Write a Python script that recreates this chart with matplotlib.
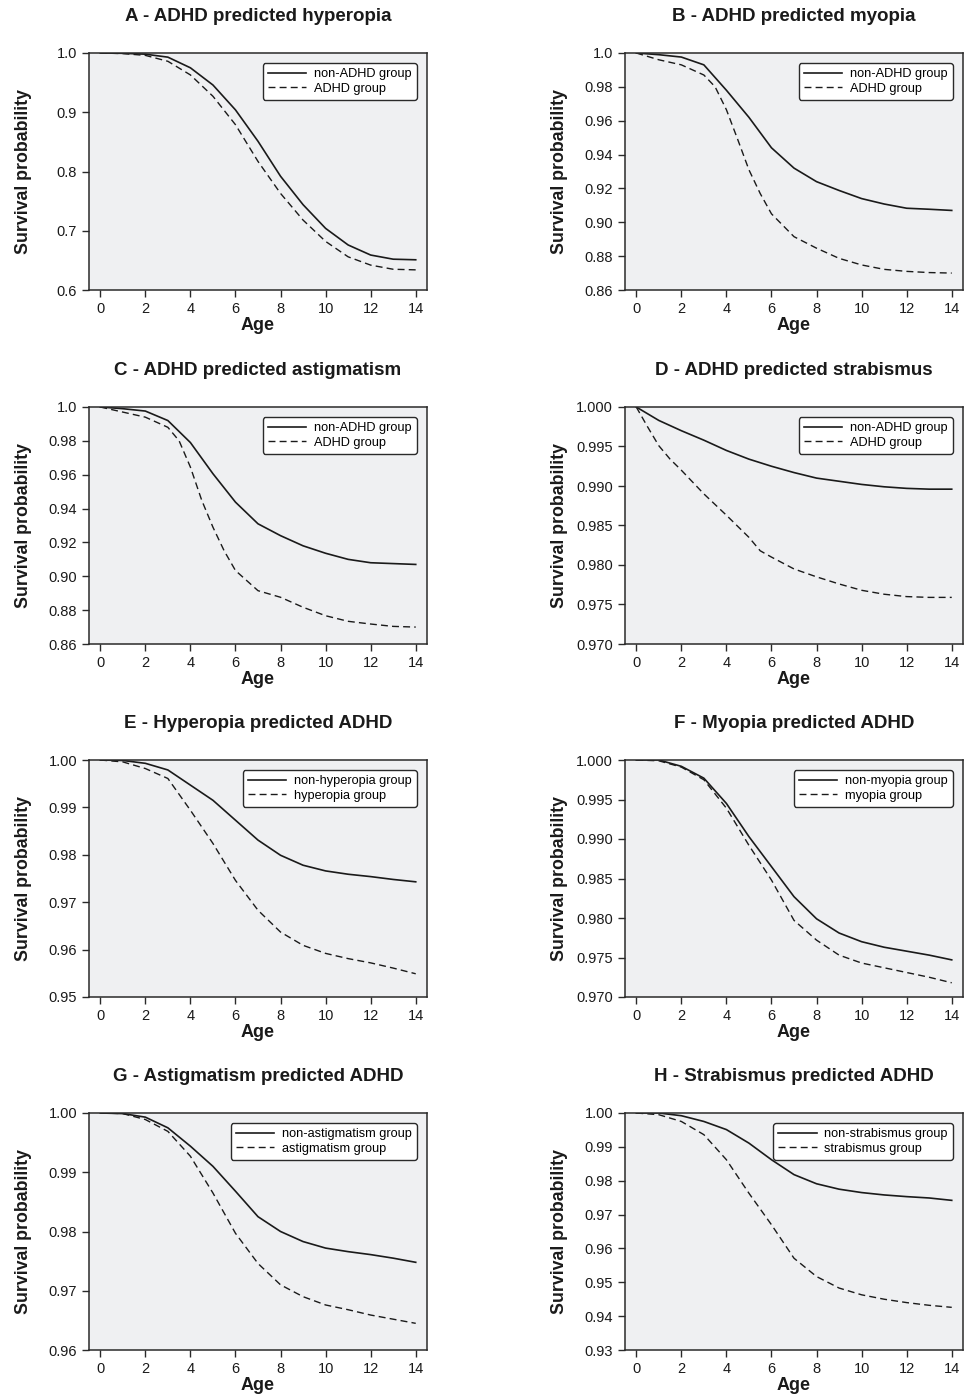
import numpy as np
import matplotlib
matplotlib.use("Agg")
import matplotlib.pyplot as plt

plt.rcParams['font.family'] = ['Liberation Sans', 'DejaVu Sans']

# ages read at whole years
ages = [0, 1, 2, 3, 4, 5, 6, 7, 8, 9, 10, 11, 12, 13, 14]
# finer ages for the steep dashed curves
ages_fine = [0, 1, 2, 3, 3.5, 4, 4.5, 5, 5.5, 6, 7, 8, 9, 10, 11, 12, 13, 14]
ages_d = [0, 0.5, 1, 1.5, 2, 3, 4, 5, 5.5, 6, 7, 8, 9, 10, 11, 12, 13, 14]

titles = ["A - ADHD predicted hyperopia", "B - ADHD predicted myopia",
          "C - ADHD predicted astigmatism", "D - ADHD predicted strabismus",
          "E - Hyperopia predicted ADHD", "F - Myopia predicted ADHD",
          "G - Astigmatism predicted ADHD", "H - Strabismus predicted ADHD"]

labels_solid = ["non-ADHD group", "non-ADHD group", "non-ADHD group", "non-ADHD group",
                "non-hyperopia group", "non-myopia group", "non-astigmatism group",
                "non-strabismus group"]
labels_dash = ["ADHD group", "ADHD group", "ADHD group", "ADHD group",
               "hyperopia group", "myopia group", "astigmatism group", "strabismus group"]

# solid curves (whole years)
a_solid = [1.0, 0.9995, 0.998, 0.993, 0.975, 0.946, 0.904, 0.851, 0.792, 0.744, 0.704, 0.676, 0.659, 0.652, 0.651]
b_solid = [1.0, 0.999, 0.9976, 0.993, 0.978, 0.962, 0.944, 0.932, 0.924, 0.9188, 0.914, 0.9108, 0.9083, 0.9077, 0.907]
c_solid = [1.0, 0.999, 0.9976, 0.992, 0.979, 0.9606, 0.9438, 0.931, 0.924, 0.918, 0.9136, 0.910, 0.908, 0.9075, 0.907]
d_solid = [1.0, 0.9983, 0.997, 0.9958, 0.9945, 0.9934, 0.9925, 0.9917, 0.9910, 0.9906, 0.9902, 0.9899, 0.9897, 0.9896, 0.9896]
e_solid = [1.0, 0.9999, 0.9993, 0.9979, 0.9947, 0.9915, 0.9873, 0.9831, 0.9799, 0.9778, 0.9766, 0.9759, 0.9754, 0.9748, 0.9743]
f_solid = [1.0, 1.0, 0.9992, 0.9977, 0.9945, 0.9903, 0.9865, 0.9827, 0.9799, 0.9781, 0.977, 0.9763, 0.9758, 0.9753, 0.9747]
g_solid = [1.0, 0.9999, 0.9993, 0.9975, 0.9944, 0.991, 0.9868, 0.9825, 0.98, 0.9783, 0.9772, 0.9766, 0.9761, 0.9755, 0.9748]
h_solid = [1.0, 1.0, 0.9992, 0.9975, 0.9951, 0.9911, 0.9862, 0.9818, 0.9791, 0.9775, 0.9765, 0.9758, 0.9753, 0.9749, 0.9742]

# dashed curves
a_dash = [1.0, 0.999, 0.996, 0.986, 0.963, 0.927, 0.879, 0.817, 0.763, 0.718, 0.682, 0.656, 0.642, 0.635, 0.634]
b_dash = [1.0, 0.996, 0.993, 0.987, 0.980, 0.9665, 0.949, 0.931, 0.917, 0.905, 0.8915, 0.8847, 0.8787, 0.8748, 0.8722, 0.871, 0.8703, 0.870]
c_dash = [1.0, 0.997, 0.994, 0.988, 0.980, 0.9645, 0.945, 0.929, 0.915, 0.9034, 0.8915, 0.8876, 0.8817, 0.8767, 0.8734, 0.8718, 0.8704, 0.870]
d_dash = [1.0, 0.9975, 0.9951, 0.9934, 0.992, 0.989, 0.9863, 0.9835, 0.9818, 0.981, 0.9795, 0.9785, 0.9776, 0.9768, 0.9763, 0.976, 0.9759, 0.9759]
e_dash = [1.0, 0.9996, 0.9982, 0.9961, 0.9894, 0.9824, 0.9746, 0.9683, 0.9637, 0.9609, 0.9592, 0.9581, 0.9572, 0.9561, 0.9549]
f_dash = [1.0, 0.9999, 0.9991, 0.9975, 0.9939, 0.9892, 0.9848, 0.9797, 0.9772, 0.9753, 0.9743, 0.9737, 0.9731, 0.9725, 0.9718]
g_dash = [1.0, 0.9999, 0.9989, 0.9969, 0.9927, 0.9865, 0.9797, 0.9746, 0.971, 0.969, 0.9676, 0.9668, 0.9659, 0.9652, 0.9645]
h_dash = [1.0, 0.9995, 0.9975, 0.9936, 0.9862, 0.9763, 0.967, 0.9571, 0.9517, 0.9483, 0.9463, 0.945, 0.944, 0.9432, 0.9426]

solid = [a_solid, b_solid, c_solid, d_solid, e_solid, f_solid, g_solid, h_solid]
dash = [a_dash, b_dash, c_dash, d_dash, e_dash, f_dash, g_dash, h_dash]
dash_x = [ages, ages_fine, ages_fine, ages_d, ages, ages, ages, ages]

yticks = [[0.6, 0.7, 0.8, 0.9, 1.0],
          [0.86, 0.88, 0.90, 0.92, 0.94, 0.96, 0.98, 1.0],
          [0.86, 0.88, 0.90, 0.92, 0.94, 0.96, 0.98, 1.0],
          [0.970, 0.975, 0.980, 0.985, 0.990, 0.995, 1.000],
          [0.95, 0.96, 0.97, 0.98, 0.99, 1.00],
          [0.970, 0.975, 0.980, 0.985, 0.990, 0.995, 1.000],
          [0.96, 0.97, 0.98, 0.99, 1.00],
          [0.93, 0.94, 0.95, 0.96, 0.97, 0.98, 0.99, 1.00]]
ytick_labels = [["0.6", "0.7", "0.8", "0.9", "1.0"],
                ["0.86", "0.88", "0.90", "0.92", "0.94", "0.96", "0.98", "1.0"],
                ["0.86", "0.88", "0.90", "0.92", "0.94", "0.96", "0.98", "1.0"],
                ["0.970", "0.975", "0.980", "0.985", "0.990", "0.995", "1.000"],
                ["0.95", "0.96", "0.97", "0.98", "0.99", "1.00"],
                ["0.970", "0.975", "0.980", "0.985", "0.990", "0.995", "1.000"],
                ["0.96", "0.97", "0.98", "0.99", "1.00"],
                ["0.93", "0.94", "0.95", "0.96", "0.97", "0.98", "0.99", "1.00"]]
xticks = [0, 2, 4, 6, 8, 10, 12, 14]

W, H = 964, 1396
fig = plt.figure(figsize=(W / 100, H / 100), dpi=100)

lefts = [89, 625]
tops = [53, 407, 760, 1113]
aw, ah = 338, 237
dark = '#2a2a2a'

for i in range(8):
    col = i % 2
    row = i // 2
    ax = fig.add_axes([lefts[col] / W, 1 - (tops[row] + ah) / H, aw / W, ah / H])
    ax.set_facecolor('#eff0f2')
    ax.plot(ages, solid[i], color='#1a1a1a', lw=1.2, ls='-', label=labels_solid[i])
    ax.plot(dash_x[i], dash[i], color='#1a1a1a', lw=1.0, ls=(0, (5, 3)), label=labels_dash[i])
    ax.set_xlim(-0.5, 14.5)
    ax.set_ylim(yticks[i][0], yticks[i][-1])
    ax.set_xticks(xticks)
    ax.set_xticklabels([str(x) for x in xticks])
    ax.set_yticks(yticks[i])
    ax.set_yticklabels(ytick_labels[i])
    ax.tick_params(direction='out', length=5, width=1, colors=dark, labelsize=10.5, labelcolor='#1a1a1a')
    for s in ax.spines.values():
        s.set_color(dark)
        s.set_linewidth(1.1)
    ax.set_xlabel("Age", fontsize=13, fontweight='bold', color='#1a1a1a', va='center')
    ax.set_ylabel("Survival probability", fontsize=12.8, fontweight='bold', color='#1a1a1a', va='center')
    ax.xaxis.set_label_coords(0.5, -0.15)
    ax.yaxis.set_label_coords(-0.195, 0.5)
    ax.text(0.5, 1.155, titles[i], transform=ax.transAxes, ha='center', va='center',
            fontsize=13.5, fontweight='bold', color='#1a1a1a')
    leg = ax.legend(loc='upper right', fontsize=9.2, frameon=True, fancybox=True,
                    handlelength=3.0, borderaxespad=0.8, borderpad=0.4,
                    labelspacing=0.2, handletextpad=0.6)
    leg.get_frame().set_edgecolor(dark)
    leg.get_frame().set_facecolor('white')
    leg.get_frame().set_alpha(1)
    leg.get_frame().set_linewidth(1.0)

fig.savefig("out.png", dpi=100)
